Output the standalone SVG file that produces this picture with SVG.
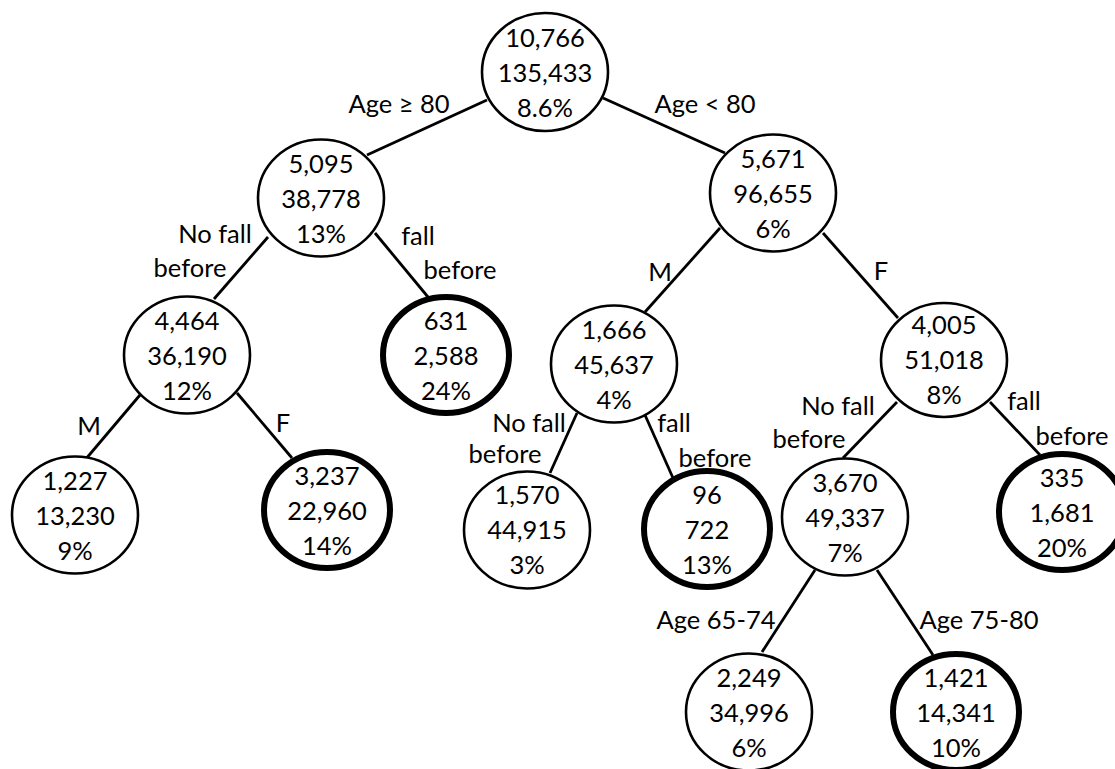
<svg xmlns="http://www.w3.org/2000/svg" width="1115" height="769" viewBox="0 0 1115 769">
<style>
.n{fill:#fff;stroke:#000;stroke-width:2.6}
.t{fill:#fff;stroke:#000;stroke-width:6}
text{font-family:Lato,"Liberation Sans",sans-serif;font-size:25.5px;fill:#000}
.c{text-anchor:middle}
#edges line{stroke:#000;stroke-width:2.8}
</style>
<rect width="1115" height="769" fill="#fff"/>
<g id="edges">
<line x1="487" y1="100" x2="367" y2="155"/>
<line x1="603" y1="98" x2="725" y2="153"/>
<line x1="268" y1="237" x2="214" y2="299"/>
<line x1="375" y1="233" x2="428" y2="297"/>
<line x1="140" y1="395" x2="85" y2="460"/>
<line x1="237" y1="393" x2="292" y2="458"/>
<line x1="720" y1="228" x2="645" y2="312"/>
<line x1="823" y1="233" x2="898" y2="318"/>
<line x1="577" y1="413" x2="550" y2="473"/>
<line x1="645" y1="415" x2="673" y2="478"/>
<line x1="897" y1="402" x2="843" y2="458"/>
<line x1="990" y1="402" x2="1040" y2="455"/>
<line x1="815" y1="570" x2="762" y2="652"/>
<line x1="877" y1="570" x2="933" y2="655"/>
</g>
<g id="edge-labels">
<text class="c" x="399" y="113">Age ≥ 80</text>
<text class="c" x="705" y="113">Age &lt; 80</text>
<text class="c" x="215" y="243">No fall</text>
<text class="c" x="190" y="277">before</text>
<text class="c" x="418" y="245">fall</text>
<text class="c" x="460" y="279">before</text>
<text class="c" x="89" y="435">M</text>
<text class="c" x="283" y="432">F</text>
<text class="c" x="660" y="281">M</text>
<text class="c" x="881" y="280">F</text>
<text class="c" x="529" y="432">No fall</text>
<text class="c" x="505" y="463">before</text>
<text class="c" x="674" y="432">fall</text>
<text class="c" x="715" y="467">before</text>
<text class="c" x="838" y="415">No fall</text>
<text class="c" x="809" y="448">before</text>
<text class="c" x="1024" y="410">fall</text>
<text class="c" x="1072" y="445">before</text>
<text class="c" x="716" y="629">Age 65-74</text>
<text class="c" x="979" y="629">Age 75-80</text>
</g>
<g id="n-root"><ellipse class="n" cx="545" cy="72" rx="63" ry="59"/>
<text class="c" x="545" y="47">10,766</text><text class="c" x="545" y="82">135,433</text><text class="c" x="545" y="117">8.6%</text></g>
<g id="n-5095"><ellipse class="n" cx="321" cy="198" rx="63" ry="58.5"/>
<text class="c" x="321" y="173">5,095</text><text class="c" x="321" y="208">38,778</text><text class="c" x="321" y="243">13%</text></g>
<g id="n-5671"><ellipse class="n" cx="773" cy="193" rx="63" ry="58.5"/>
<text class="c" x="773" y="168">5,671</text><text class="c" x="773" y="203">96,655</text><text class="c" x="773" y="238">6%</text></g>
<g id="n-4464"><ellipse class="n" cx="187" cy="355" rx="63" ry="58.5"/>
<text class="c" x="187" y="330">4,464</text><text class="c" x="187" y="365">36,190</text><text class="c" x="187" y="400">12%</text></g>
<g id="n-631"><ellipse class="t" cx="446" cy="355" rx="63" ry="58"/>
<text class="c" x="446" y="330">631</text><text class="c" x="446" y="365">2,588</text><text class="c" x="446" y="400">24%</text></g>
<g id="n-1666"><ellipse class="n" cx="614" cy="364" rx="63" ry="58.5"/>
<text class="c" x="614" y="339">1,666</text><text class="c" x="614" y="374">45,637</text><text class="c" x="614" y="409">4%</text></g>
<g id="n-4005"><ellipse class="n" cx="944" cy="360" rx="63" ry="57"/>
<text class="c" x="944" y="334">4,005</text><text class="c" x="944" y="369">51,018</text><text class="c" x="944" y="404">8%</text></g>
<g id="n-1227"><ellipse class="n" cx="75" cy="515" rx="63" ry="58.5"/>
<text class="c" x="75" y="490">1,227</text><text class="c" x="75" y="525">13,230</text><text class="c" x="75" y="560">9%</text></g>
<g id="n-3237"><ellipse class="t" cx="327" cy="510" rx="63" ry="58"/>
<text class="c" x="327" y="485">3,237</text><text class="c" x="327" y="520">22,960</text><text class="c" x="327" y="555">14%</text></g>
<g id="n-1570"><ellipse class="n" cx="527" cy="530" rx="63" ry="58.5"/>
<text class="c" x="527" y="504">1,570</text><text class="c" x="527" y="539">44,915</text><text class="c" x="527" y="574">3%</text></g>
<g id="n-96"><ellipse class="t" cx="707" cy="529" rx="63" ry="58"/>
<text class="c" x="707" y="504">96</text><text class="c" x="707" y="539">722</text><text class="c" x="707" y="574">13%</text></g>
<g id="n-3670"><ellipse class="n" cx="845" cy="517" rx="63" ry="58.5"/>
<text class="c" x="845" y="492">3,670</text><text class="c" x="845" y="527">49,337</text><text class="c" x="845" y="562">7%</text></g>
<g id="n-335"><ellipse class="t" cx="1062" cy="512" rx="63" ry="58"/>
<text class="c" x="1062" y="487">335</text><text class="c" x="1062" y="522">1,681</text><text class="c" x="1062" y="557">20%</text></g>
<g id="n-2249"><ellipse class="n" cx="749" cy="712" rx="63" ry="58.5"/>
<text class="c" x="749" y="687">2,249</text><text class="c" x="749" y="722">34,996</text><text class="c" x="749" y="757">6%</text></g>
<g id="n-1421"><ellipse class="t" cx="956" cy="712" rx="63" ry="58"/>
<text class="c" x="956" y="687">1,421</text><text class="c" x="956" y="722">14,341</text><text class="c" x="956" y="757">10%</text></g>
</svg>
